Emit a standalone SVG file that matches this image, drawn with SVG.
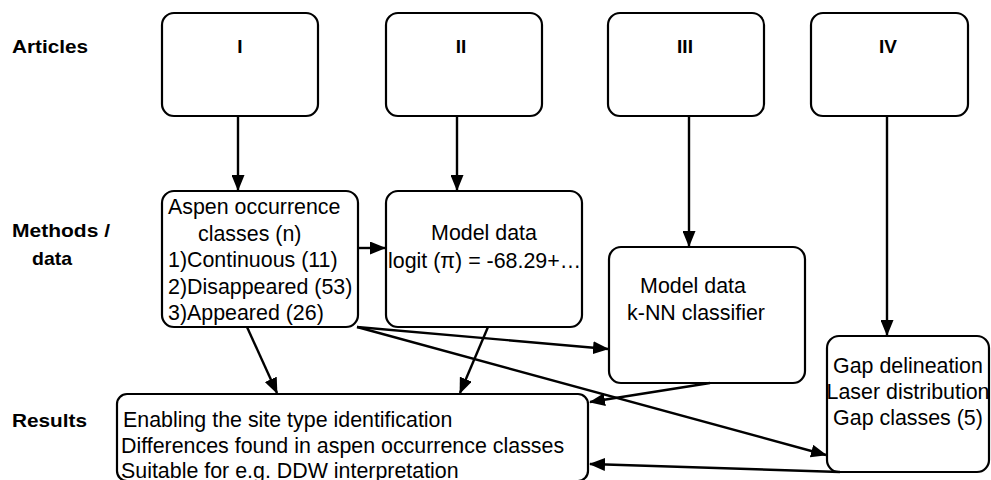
<svg xmlns="http://www.w3.org/2000/svg" width="991" height="480" viewBox="0 0 991 480">
<defs>
<style>
.box{fill:#fff;stroke:#000;stroke-width:2.2}
.t{font-family:"Liberation Sans",Arial,sans-serif;font-size:21.4px;fill:#000}
.b{font-family:"Liberation Sans",Arial,sans-serif;font-size:19px;font-weight:bold;fill:#000}
.c{text-anchor:middle}
.ln{stroke:#000;stroke-width:2.4;fill:none;marker-end:url(#ah)}
</style>
<marker id="ah" viewBox="0 0 16 13" refX="15" refY="6.5" markerWidth="16" markerHeight="13" orient="auto" markerUnits="userSpaceOnUse">
<path d="M0,0 L16,6.5 L0,13 z" fill="#000"/>
</marker>
</defs>
<rect width="991" height="480" fill="#fff"/>
<g id="labels">
<text class="b" x="12" y="53" textLength="76" lengthAdjust="spacingAndGlyphs">Articles</text>
<text class="b" x="12" y="237" textLength="98" lengthAdjust="spacingAndGlyphs">Methods /</text>
<text class="b" x="32" y="265" textLength="40" lengthAdjust="spacingAndGlyphs">data</text>
<text class="b" x="12" y="427" textLength="75" lengthAdjust="spacingAndGlyphs">Results</text>
</g>
<g id="art1"><rect class="box" x="162" y="13" width="156" height="103" rx="12"/><text class="b c" x="240" y="53">I</text></g>
<g id="art2"><rect class="box" x="386" y="13" width="156" height="103" rx="12"/><text class="b c" x="461" y="53">II</text></g>
<g id="art3"><rect class="box" x="608" y="13" width="156" height="103" rx="12"/><text class="b c" x="685" y="53">III</text></g>
<g id="art4"><rect class="box" x="811" y="13" width="157" height="103" rx="12"/><text class="b c" x="888" y="53">IV</text></g>
<g id="aspen"><rect class="box" x="162" y="191" width="196" height="136" rx="12"/>
<text class="t" x="168" y="214">Aspen occurrence</text>
<text class="t" x="198" y="241">classes (n)</text>
<text class="t" x="168" y="267">1)Continuous (11)</text>
<text class="t" x="168" y="294">2)Disappeared (53)</text>
<text class="t" x="168" y="320">3)Appeared (26)</text>
</g>
<g id="model2"><rect class="box" x="386" y="191" width="196" height="136" rx="12"/>
<text class="t c" x="484" y="240">Model data</text>
<text class="t" x="388" y="268">logit (π) = -68.29+…</text>
</g>
<g id="model3"><rect class="box" x="609" y="247" width="196" height="136" rx="12"/>
<text class="t c" x="693" y="293">Model data</text>
<text class="t c" x="696" y="320">k-NN classifier</text>
</g>
<g id="gap"><rect class="box" x="827" y="336" width="162" height="136" rx="12"/>
<text class="t c" x="908" y="373">Gap delineation</text>
<text class="t c" x="908" y="399">Laser distribution</text>
<text class="t c" x="908" y="425">Gap classes (5)</text>
</g>
<g id="results"><rect class="box" x="117" y="394" width="471" height="87" rx="10"/>
<text class="t" x="123" y="427">Enabling the site type identification</text>
<text class="t" x="121" y="453">Differences found in aspen occurrence classes</text>
<text class="t" x="121" y="478">Suitable for e.g. DDW interpretation</text>
</g>
<g id="connectors">
<line class="ln" x1="238" y1="116" x2="238" y2="190"/>
<line class="ln" x1="457" y1="116" x2="457" y2="190"/>
<line class="ln" x1="689" y1="116" x2="689" y2="246"/>
<line class="ln" x1="887" y1="116" x2="887" y2="335"/>
<line class="ln" x1="358" y1="248" x2="385" y2="248"/>
<line class="ln" x1="247" y1="327" x2="277" y2="393"/>
<line class="ln" x1="488" y1="327" x2="460" y2="393"/>
<line class="ln" x1="357" y1="327" x2="608" y2="349"/>
<line class="ln" x1="357" y1="327" x2="826" y2="455"/>
<line class="ln" x1="710" y1="383" x2="590" y2="402"/>
<line class="ln" x1="840" y1="472" x2="590" y2="464"/>
</g>
</svg>
